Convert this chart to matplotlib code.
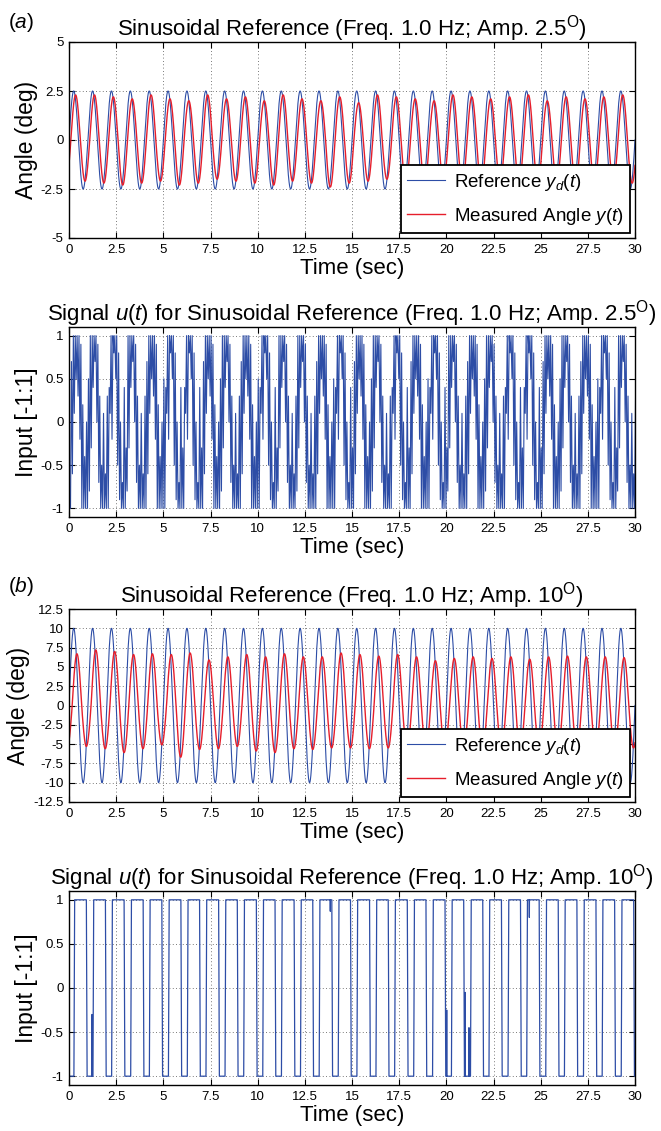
import numpy as np
import matplotlib.pyplot as plt
from matplotlib.ticker import MultipleLocator, FormatStrFormatter

plt.rcParams['font.family'] = ['Liberation Sans', 'DejaVu Sans']
plt.rcParams['mathtext.fontset'] = 'custom'
plt.rcParams['mathtext.rm'] = 'Liberation Sans'
plt.rcParams['mathtext.it'] = 'Liberation Sans:italic'

# reference sinusoid, as stated in the titles
freq = 1.0
amp_a = 2.5
amp_b = 10.0
t_end = 30.0

# measured angle: peak / trough of each cycle
peak_a = [2.3, 2.3, 2.2, 2.1, 2.3, 2.1, 2.0, 2.3, 2.1, 2.2, 2.0, 2.3, 2.1, 2.0, 2.2,
          1.9, 2.3, 2.2, 2.1, 2.0, 2.3, 2.2, 2.1, 2.2, 2.3, 2.0, 2.2, 2.1, 2.2, 2.3]
trough_a = [-2.1, -2.2, -2.3, -2.2, -2.1, -2.3, -2.2, -2.0, -2.1, -2.2, -2.3, -2.1, -2.2, -2.4, -2.2,
            -2.1, -2.0, -2.2, -2.2, -2.1, -2.2, -2.3, -2.1, -2.2, -2.2, -2.1, -2.3, -2.2, -2.1, -2.2]
lag_a = 0.10
peak_b = [6.7, 7.2, 7.0, 6.6, 6.7, 6.6, 6.8, 5.9, 6.3, 6.6, 6.3, 6.7, 6.3, 6.3, 6.8,
          6.6, 6.4, 6.6, 6.3, 5.8, 6.1, 6.3, 6.1, 6.3, 6.0, 6.3, 6.4, 6.3, 6.3, 6.2]
trough_b = [-5.3, -5.6, -6.1, -5.6, -5.1, -6.7, -5.7, -5.6, -5.3, -5.9, -6.1, -5.6, -5.7, -5.5, -5.5,
            -5.6, -5.5, -5.6, -5.5, -5.6, -5.5, -5.6, -5.5, -5.6, -5.5, -5.6, -5.5, -5.6, -5.5, -5.5]
lag_b = 0.17

# input u(t) for (a): chattering patterns over one cycle, one value every 0.05 s
u_a_step = 0.05
u_a_shift = 0.08
u_a_patterns = [
    [-1.0, 0.7, -0.6, 1.0, 0.1, 1.0, 0.5, 1.0, 0.3, 1.0,
     -0.2, 0.9, -1.0, 0.2, -1.0, -0.4, -1.0, 0.0, -1.0, 0.5],
    [-0.8, 1.0, -0.3, 1.0, 0.4, 1.0, 0.7, 1.0, 0.0, 0.9,
     -0.7, 0.3, -1.0, -0.5, -1.0, 0.1, -1.0, -0.6, -1.0, 0.3],
    [-1.0, 0.4, 0.1, 1.0, -0.2, 1.0, 0.8, 1.0, 0.5, 1.0,
     -0.5, 0.8, -0.9, 0.0, -1.0, -0.7, -1.0, 0.4, -1.0, -0.3],
]
u_a_order = [0, 1, 2, 1, 0, 2, 2, 0, 1, 0, 2, 1, 1, 0, 2,
             0, 1, 2, 0, 2, 1, 0, 1, 2, 2, 0, 1, 0, 2, 1]

# input u(t) for (b): switching instants of the bang-bang signal
rise_b = [0.30, 1.31, 2.30, 3.31, 4.30, 5.31, 6.31, 7.30, 8.31, 9.30, 10.31, 11.30, 12.31, 13.30, 14.31,
          15.30, 16.31, 17.30, 18.31, 19.31, 20.31, 21.32, 22.30, 23.31, 24.30, 25.31, 26.30, 27.31, 28.30, 29.31]
fall_b = [0.92, 1.93, 2.92, 3.93, 4.92, 5.93, 6.92, 7.93, 8.92, 9.93, 10.92, 11.93, 12.92, 13.93, 14.92,
          15.93, 16.92, 17.93, 18.92, 19.93, 20.92, 21.93, 22.92, 23.93, 24.92, 25.93, 26.92, 27.93, 28.92, 29.93]
spike_t = [1.22, 13.85, 20.02, 21.00, 21.20, 24.40]
spike_v = [-0.30, 0.87, -0.25, -0.05, -0.45, 0.80]

blue = '#2d4da6'
red = '#e61e2b'


def measured(t, peaks, troughs, lag):
    ph = (t - lag) * freq
    k = np.clip(np.floor(ph).astype(int), 0, len(peaks) - 1)
    s = np.sin(2 * np.pi * ph)
    return np.where(s >= 0, np.array(peaks)[k] * s, -np.array(troughs)[k] * s)


def style(ax, ylim, ystep, ylabel):
    ax.set_xlim(0, t_end)
    ax.set_ylim(*ylim)
    ax.xaxis.set_major_locator(MultipleLocator(2.5))
    ax.yaxis.set_major_locator(MultipleLocator(ystep))
    ax.xaxis.set_major_formatter(FormatStrFormatter('%g'))
    ax.yaxis.set_major_formatter(FormatStrFormatter('%g'))
    ax.tick_params(direction='in', top=True, right=True, length=4, width=0.8,
                   labelsize=9.5, pad=4)
    ax.grid(True, linestyle=(0, (1, 3)), color='0.3', linewidth=0.6)
    for sp in ax.spines.values():
        sp.set_linewidth(1.0)
    ax.set_xlabel('Time (sec)', fontsize=16, labelpad=2)
    ax.set_ylabel(ylabel, fontsize=16.5, labelpad=2)


fig = plt.figure(figsize=(6.61, 11.31), dpi=100)
W, H = 661, 1131
L, R = 69, 635
boxes = [(42, 238), (327, 517), (609, 802), (891, 1085)]
axs = [fig.add_axes([L / W, 1 - b / H, (R - L) / W, (b - t) / H]) for t, b in boxes]

t = np.linspace(0, t_end, 6001)

# (a) angle
ax = axs[0]
ax.plot(t, amp_a * np.sin(2 * np.pi * freq * t), color=blue, lw=0.8, label=r'Reference $\mathit{y_d(t)}$')
ax.plot(t, measured(t, peak_a, trough_a, lag_a), color=red, lw=1.0, label=r'Measured Angle $\mathit{y(t)}$')
style(ax, (-5, 5), 2.5, 'Angle (deg)')
ax.set_title(r'Sinusoidal Reference (Freq. 1.0 Hz; Amp. 2.5$^{\mathrm{O}}$)', fontsize=16, pad=5)

# (a) input
ax = axs[1]
ua_t, ua_v = [], []
for k, p in enumerate(u_a_order):
    for i, v in enumerate(u_a_patterns[p]):
        ua_t.append(k + u_a_shift + i * u_a_step)
        ua_v.append(v)
ax.plot(ua_t, ua_v, color=blue, lw=0.8)
style(ax, (-1.1, 1.1), 0.5, 'Input [-1:1]')
ax.set_title(r'Signal $\mathit{u(t)}$ for Sinusoidal Reference (Freq. 1.0 Hz; Amp. 2.5$^{\mathrm{O}}$)',
             fontsize=16, pad=5)

# (b) angle
ax = axs[2]
ax.plot(t, amp_b * np.sin(2 * np.pi * freq * t), color=blue, lw=0.8, label=r'Reference $\mathit{y_d(t)}$')
ax.plot(t, measured(t, peak_b, trough_b, lag_b), color=red, lw=1.0, label=r'Measured Angle $\mathit{y(t)}$')
style(ax, (-12.5, 12.5), 2.5, 'Angle (deg)')
ax.set_title(r'Sinusoidal Reference (Freq. 1.0 Hz; Amp. 10$^{\mathrm{O}}$)', fontsize=16, pad=5)

# (b) input
ax = axs[3]
pts = [(0.0, -1.0)]
for r, f in zip(rise_b, fall_b):
    pts += [(r - 0.04, -1.0), (r, 1.0), (f, 1.0), (f + 0.04, -1.0)]
for st, sv in zip(spike_t, spike_v):
    base = 1.0 if sv > 0 else -1.0
    pts += [(st - 0.005, base), (st, sv), (st + 0.005, base)]
pts.sort()
ax.plot([p[0] for p in pts], [p[1] for p in pts], color=blue, lw=0.9)
style(ax, (-1.1, 1.1), 0.5, 'Input [-1:1]')
ax.set_title(r'Signal $\mathit{u(t)}$ for Sinusoidal Reference (Freq. 1.0 Hz; Amp. 10$^{\mathrm{O}}$)',
             fontsize=16, pad=5)

for ax in (axs[0], axs[2]):
    leg = ax.legend(loc='lower right', fontsize=13.5, fancybox=False, edgecolor='black',
                    framealpha=1, borderaxespad=0.25, handlelength=2.0, labelspacing=0.7,
                    borderpad=0.35, handletextpad=0.5)
    leg.get_frame().set_linewidth(1.3)

fig.text(8 / W, 1 - 22 / H, r'($\mathit{a}$)', fontsize=15, va='center')
fig.text(8 / W, 1 - 587 / H, r'($\mathit{b}$)', fontsize=15, va='center')

fig.savefig('out.png', dpi=100)
